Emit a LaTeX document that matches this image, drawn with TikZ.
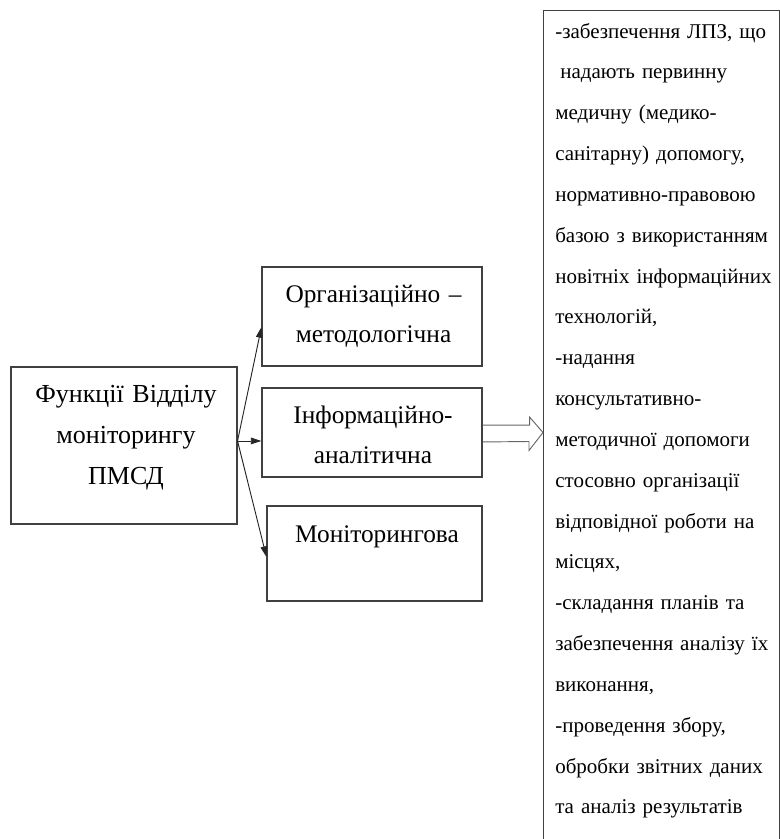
\documentclass[tikz,border=0pt]{standalone}
\usepackage{fontspec}
\setmainfont{Liberation Serif}
\usetikzlibrary{arrows.meta}
\begin{document}
\begin{tikzpicture}[x=0.75pt,y=-0.75pt,
  frame/.style={draw=black!75,line width=0.8pt,inner sep=0pt},
  lbl/.style={anchor=base,align=center,text width=#1,inner sep=0pt},
  bigfont/.style={font=\fontsize{19pt}{30.5pt}\selectfont},
  conn/.style={draw=black!85,line width=0.7pt,-{Triangle[length=8pt,width=5pt]}},
  hollow/.style={draw=black!60,line width=0.7pt,line join=miter}]
\clip (0,0) rectangle (780,839);
% boxes
\node[frame,minimum width=169.5pt,minimum height=117.75pt] (lb) at (124,445.5) {};
\node[frame,minimum width=165pt,minimum height=74.25pt] (b1) at (372,316.5) {};
\node[frame,minimum width=165pt,minimum height=66.75pt] (b2) at (372,432.5) {};
\node[frame,minimum width=161.25pt,minimum height=71.25pt] (b3) at (374.5,553.5) {};
\node[frame,anchor=north west,minimum width=177pt,minimum height=675pt] (rb) at (543,10) {};
% texts
\node[lbl=160pt,font=\fontsize{19.5pt}{31pt}\selectfont] (lt) at (126,402) {Функції Відділу\\моніторингу\\ПМСД};
\node[lbl=160pt,bigfont] (t1) at (373.5,302) {Організаційно –\\методологічна};
\node[lbl=160pt,bigfont] (t2) at (373,423) {Інформаційно-\\аналітична};
\node[lbl=160pt,bigfont] (t3) at (377,542) {Моніторингова};
\node[anchor=base west,align=left,text width=250pt,inner sep=0pt,
      font=\fontsize{15.75pt}{30.63pt}\selectfont] (rt) at (555,38)
 {-забезпечення ЛПЗ, що\\
  \hspace*{3.75pt}надають первинну\\
  медичну (медико-\\
  санітарну) допомогу,\\
  нормативно-правовою\\
  базою з використанням\\
  новітніх інформаційних\\
  технологій,\\
  -надання\\
  консультативно-\\
  методичної допомоги\\
  стосовно організації\\
  відповідної роботи на\\
  місцях,\\
  -складання планів та\\
  забезпечення аналізу їх\\
  виконання,\\
  -проведення збору,\\
  обробки звітних даних\\
  та аналіз результатів};
% connectors
\coordinate (o) at ([yshift=3.4pt]lb.east);
\draw[conn] (o) -- ([yshift=-7.9pt]b1.west);
\draw[conn] (o) -- (b2.west |- o);
\draw[conn] (o) -- ([yshift=-2.6pt]b3.west);
\draw[hollow] ([yshift=5.6pt]b2.east) -- ++(47,0) -- ++(0,-8) -- (rb.west |- b2.east)
  -- ++(-14,18) -- ++(0,-9) -- ([yshift=-7.1pt]b2.east);
\end{tikzpicture}
\end{document}
